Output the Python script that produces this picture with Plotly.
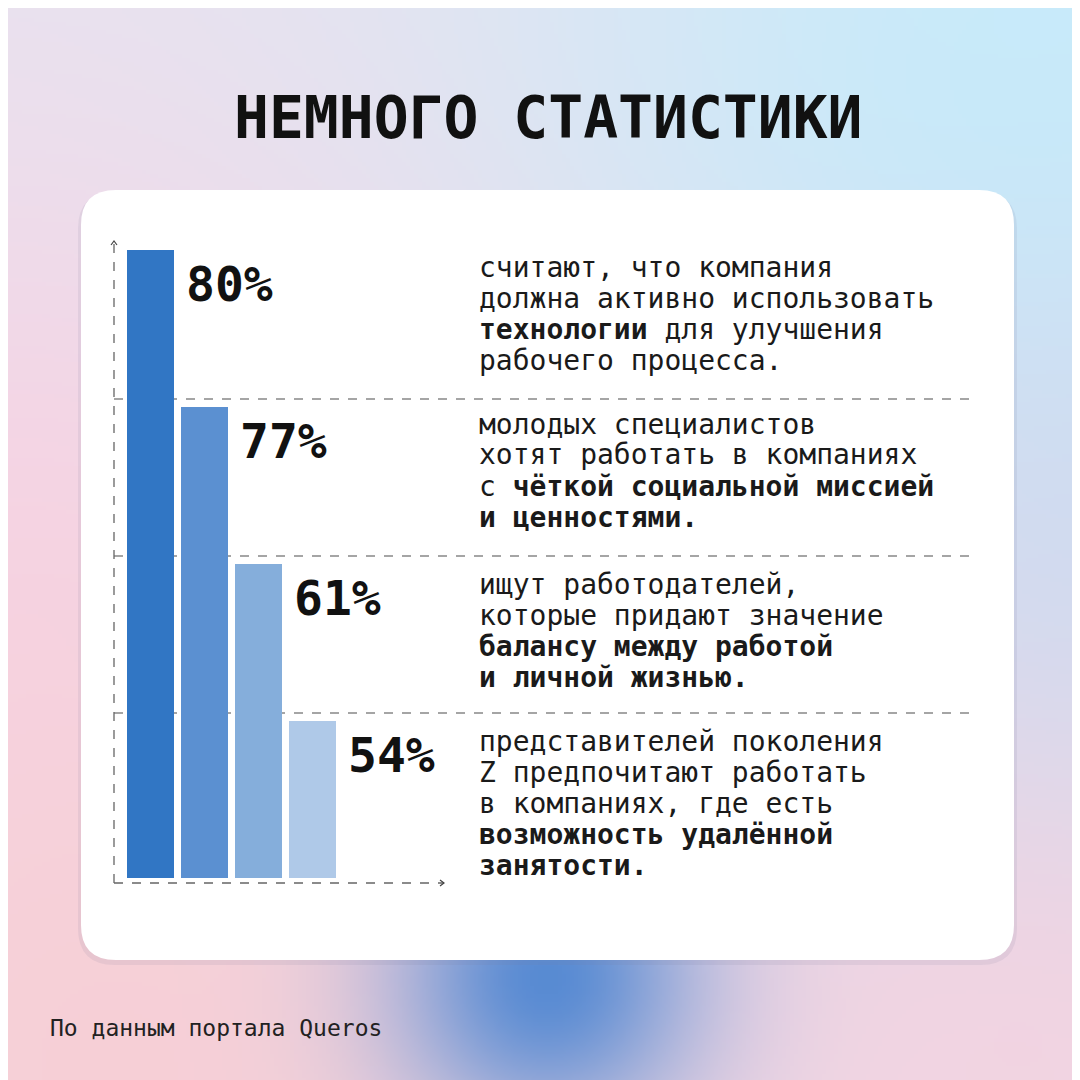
import base64
import struct
import zlib

import numpy as np
import plotly.graph_objects as go

W = H = 1080
title = "НЕМНОГО СТАТИСТИКИ"
source = "По данным портала Queros"
values = [80, 77, 61, 54]
levels = [4, 3, 2, 1]  # bar heights in the picture are stepped, not proportional
colors = ["#3176c4", "#5b90d1", "#85aedb", "#afc9e8"]
descriptions = [
    ["считают, что компания", "должна активно использовать",
     "<b>технологии</b> для улучшения", "рабочего процесса."],
    ["молодых специалистов", "хотят работать в компаниях",
     "с <b>чёткой социальной миссией</b>", "<b>и ценностями.</b>"],
    ["ищут работодателей,", "которые придают значение",
     "<b>баланcу между работой</b>", "<b>и личной жизнью.</b>"],
    ["представителей поколения", "Z предпочитают работать",
     "в компаниях, где есть", "<b>возможность удалённой</b>", "<b>занятости.</b>"],
]

MONO = "DejaVu Sans Mono"


def px(x):
    return x / W


def py(y):
    return 1 - y / H


def png_uri(arr):
    h, w, _ = arr.shape
    raw = b"".join(b"\x00" + arr[r].tobytes() for r in range(h))
    def chunk(tag, data):
        c = struct.pack(">I", len(data)) + tag + data
        return c + struct.pack(">I", zlib.crc32(tag + data) & 0xffffffff)
    png = (b"\x89PNG\r\n\x1a\n" + chunk(b"IHDR", struct.pack(">IIBBBBB", w, h, 8, 2, 0, 0, 0))
           + chunk(b"IDAT", zlib.compress(raw, 9)) + chunk(b"IEND", b""))
    return "data:image/png;base64," + base64.b64encode(png).decode()


# background gradient
n = 270
gx, gy = np.meshgrid(np.linspace(0, 1, n), np.linspace(0, 1, n))
def blob(cx, cy, r):
    return np.exp(-((gx - cx) ** 2 + (gy - cy) ** 2) / (2 * r * r))[..., None]
img = np.ones((n, n, 3)) * np.array([232, 228, 240])
for (cx, cy, r, col, a) in [
    (0.95, 0.08, 0.35, (196, 236, 252), 0.9),
    (0.0, 0.55, 0.3, (248, 210, 230), 0.8),
    (0.1, 1.0, 0.35, (248, 206, 212), 0.9),
    (0.95, 0.95, 0.3, (246, 208, 222), 0.8),
    (0.5, 0.9, 0.1, (80, 135, 210), 0.95),
    (1.0, 0.5, 0.2, (200, 215, 240), 0.6),
]:
    w = blob(cx, cy, r) * a
    img = img * (1 - w) + np.array(col) * w

fig = go.Figure()
cats = list(range(len(values)))
fig.add_trace(go.Bar(x=cats, y=levels, marker_color=colors, width=47 / 54,
                     marker_line_width=0,
                     customdata=values, hovertemplate="%{customdata}%<extra></extra>"))

shapes = []
def rrect(x0, y0, x1, y1, r):
    return (f"M {px(x0+r)},{py(y0)} L {px(x1-r)},{py(y0)} Q {px(x1)},{py(y0)} {px(x1)},{py(y0+r)} "
            f"L {px(x1)},{py(y1-r)} Q {px(x1)},{py(y1)} {px(x1-r)},{py(y1)} "
            f"L {px(x0+r)},{py(y1)} Q {px(x0)},{py(y1)} {px(x0)},{py(y1-r)} "
            f"L {px(x0)},{py(y0+r)} Q {px(x0)},{py(y0)} {px(x0+r)},{py(y0)} Z")
shapes.append(dict(type="path", xref="paper", yref="paper", path=rrect(70, 184, 1009, 957, 37),
                   fillcolor="rgba(120,120,160,0.12)", line_width=0, layer="below"))
shapes.append(dict(type="path", xref="paper", yref="paper", path=rrect(73, 182, 1006, 952, 35),
                   fillcolor="white", line_width=0, layer="below"))
dash = dict(color="#666", width=1.3, dash="dash")
shapes.append(dict(type="line", xref="paper", yref="paper", x0=px(106), x1=px(106),
                   y0=py(875), y1=py(234), line=dash))
shapes.append(dict(type="line", xref="paper", yref="paper", x0=px(106), x1=px(436),
                   y0=py(875), y1=py(875), line=dash))
shapes.append(dict(type="path", xref="paper", yref="paper",
                   path=f"M {px(103)},{py(237)} L {px(106)},{py(233)} L {px(109)},{py(237)}",
                   line=dict(color="#444", width=1.2)))
shapes.append(dict(type="path", xref="paper", yref="paper",
                   path=f"M {px(432)},{py(872)} L {px(436)},{py(875)} L {px(432)},{py(878)}",
                   line=dict(color="#444", width=1.2)))
for yl in [391, 548, 705]:
    shapes.append(dict(type="line", xref="paper", yref="paper", x0=px(106), x1=px(965),
                       y0=py(yl), y1=py(yl), line=dict(color="#888", width=1.3, dash="dash"),
                       layer="below"))

ann = []
ann.append(dict(text=f"<b>{title}</b>", x=0.5, y=py(110), xref="paper", yref="paper",
                showarrow=False, font=dict(family=MONO, size=58, color="#111"), yanchor="middle"))
ann.append(dict(text=source, x=px(40), y=py(1035), xref="paper", yref="paper", xanchor="left",
                showarrow=False, font=dict(family=MONO, size=23, color="#222")))
for i, v in enumerate(values):
    ann.append(dict(text=f"<b>{v}%</b>", x=i, y=levels[i], xref="x", yref="y",
                    xanchor="left", yanchor="top", xshift=33, yshift=-4, showarrow=False,
                    font=dict(family=MONO, size=48, color="#111")))
tops = [259, 416, 576, 733]
for b, lines in enumerate(descriptions):
    for j, line in enumerate(lines):
        ann.append(dict(text=line, x=px(469), y=py(tops[b] + 31 * j), xref="paper", yref="paper",
                        xanchor="left", yanchor="middle", showarrow=False,
                        font=dict(family=MONO, size=28, color="#1a1a1a")))

fig.update_layout(
    width=W, height=H, margin=dict(l=0, r=0, t=0, b=0), showlegend=False,
    paper_bgcolor="white", plot_bgcolor="rgba(0,0,0,0)",
    images=[dict(source=png_uri(img.astype(np.uint8)), xref="paper", yref="paper",
                 x=0, y=1, sizex=1, sizey=1, sizing="stretch", layer="below")],
    xaxis=dict(range=[(105 - 142.5) / 54, (440 - 142.5) / 54], domain=[px(105), px(440)],
               visible=False),
    yaxis=dict(range=[0, (870 - 233) / 157], domain=[py(870), py(233)], visible=False),
    shapes=shapes, annotations=ann,
)
fig.write_html("out.html")
